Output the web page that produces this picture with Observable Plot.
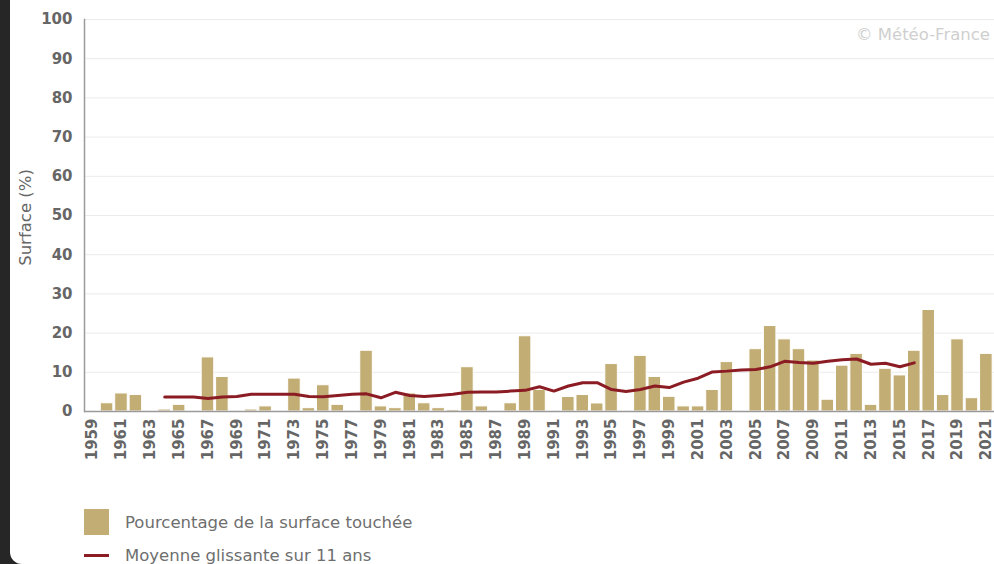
<!DOCTYPE html>
<html>
<head>
<meta charset="utf-8">
<script src="https://cdn.jsdelivr.net/npm/d3@7"></script>
<script src="https://cdn.jsdelivr.net/npm/@observablehq/plot@0.6"></script>
<style>
  html, body { margin: 0; padding: 0; width: 994px; height: 564px; overflow: hidden; background: #262626; font-family: "DejaVu Sans", sans-serif; }
  #panel { position: absolute; left: 10px; top: 0; width: 984px; height: 564px; background: #fff; border-bottom-left-radius: 12px; }
  #chart { position: absolute; left: 0; top: 0; }
  #credit { position: absolute; right: 4px; top: 25px; font-size: 16.5px; color: #cfcfcf; }
  .leg { position: absolute; left: 84px; font-size: 16.5px; color: #6e6e6e; display: flex; align-items: center; }
  .sw { width: 25px; height: 26px; background: #c2ad74; margin-right: 16px; }
  .ln { width: 25px; height: 3px; background: #8b1c24; margin-right: 16px; }
</style>
</head>
<body>
<div id="panel"></div>
<div id="chart"></div>
<div id="credit">© Météo-France</div>
<div class="leg" style="top:509px;"><div class="sw"></div><span>Pourcentage de la surface touchée</span></div>
<div class="leg" style="top:546px;"><div class="ln"></div><span>Moyenne glissante sur 11 ans</span></div>
<script>
const years = d3.range(1959, 2022);
const surface = [
  0, 2.1, 4.6, 4.2, 0, 0.5, 1.7, 0, 13.8, 8.8,
  0, 0.5, 1.3, 0, 8.4, 0.85, 6.7, 1.7, 0, 15.5,
  1.3, 0.85, 4.6, 2.1, 0.85, 0.4, 11.3, 1.3, 0, 2.1,
  19.2, 5.5, 0, 3.7, 4.2, 2.05, 12.1, 0, 14.2, 8.8,
  3.75, 1.3, 1.3, 5.5, 12.6, 0, 15.9, 21.8, 18.4, 15.9,
  13.0, 3.0, 11.7, 14.7, 1.7, 10.9, 9.2, 15.5, 25.9, 4.2,
  18.4, 3.4, 14.7
];
const maYears = d3.range(1964, 2017);
const movingAvg = [
  3.7, 3.7, 3.7, 3.3, 3.7, 3.85, 4.4, 4.4, 4.4, 4.4,
  3.85, 3.75, 4.1, 4.4, 4.5, 3.5, 4.9, 4.1, 3.85, 4.1,
  4.4, 4.9, 5.0, 5.0, 5.2, 5.4, 6.3, 5.2, 6.5, 7.35,
  7.35, 5.6, 5.1, 5.6, 6.5, 6.1, 7.5, 8.5, 10.1, 10.3,
  10.6, 10.7, 11.4, 12.8, 12.5, 12.3, 12.8, 13.2, 13.4, 12.05,
  12.3, 11.4, 12.4
];
const yTicks = d3.range(0, 101, 10);
const xTicks = years.filter(y => (y - 1959) % 2 === 0);
const yTitle = "Surface (%)";

const bars = years.map((y, i) => ({year: y, value: surface[i]}));
const ma = maYears.map((y, i) => ({year: y, value: movingAvg[i]}));

const chart = Plot.plot({
  width: 994,
  height: 470,
  marginLeft: 84,
  marginRight: 0,
  marginTop: 19,
  marginBottom: 59,
  style: {background: "transparent", maxWidth: "none", fontFamily: "DejaVu Sans, sans-serif", overflow: "visible"},
  x: {type: "band", domain: years, padding: 0.13, round: false},
  y: {domain: [0, 100]},
  marks: [
    Plot.gridY(yTicks, {stroke: "#ebebeb", strokeOpacity: 1}),
    Plot.barY(bars, {x: "year", y: "value", fill: "#c2ad74", stroke: "#fff", strokeWidth: 1}),
    Plot.lineY(ma, {x: "year", y: "value", stroke: "#8b1c24", strokeWidth: 3, curve: "linear"}),
    Plot.ruleY([0], {stroke: "#9a9a9a", strokeWidth: 1.5}),
    Plot.frame({anchor: "left", stroke: "#9a9a9a", strokeWidth: 1.5}),
    Plot.axisY({ticks: yTicks, tickSize: 0, tickPadding: 12, fontSize: 15, fontWeight: "bold", fill: "#666", label: null}),
    Plot.axisX({ticks: xTicks, tickSize: 0, tickPadding: 7, tickRotate: -90, fontSize: 15, fontWeight: "bold", fill: "#666", label: null, tickFormat: d => String(d)}),
    Plot.text([yTitle], {frameAnchor: "left", dx: -59, dy: 2, rotate: -90, textAnchor: "middle", fontSize: 16.5, fill: "#666", text: d => d})
  ]
});
document.getElementById("chart").appendChild(chart);
</script>
</body>
</html>
